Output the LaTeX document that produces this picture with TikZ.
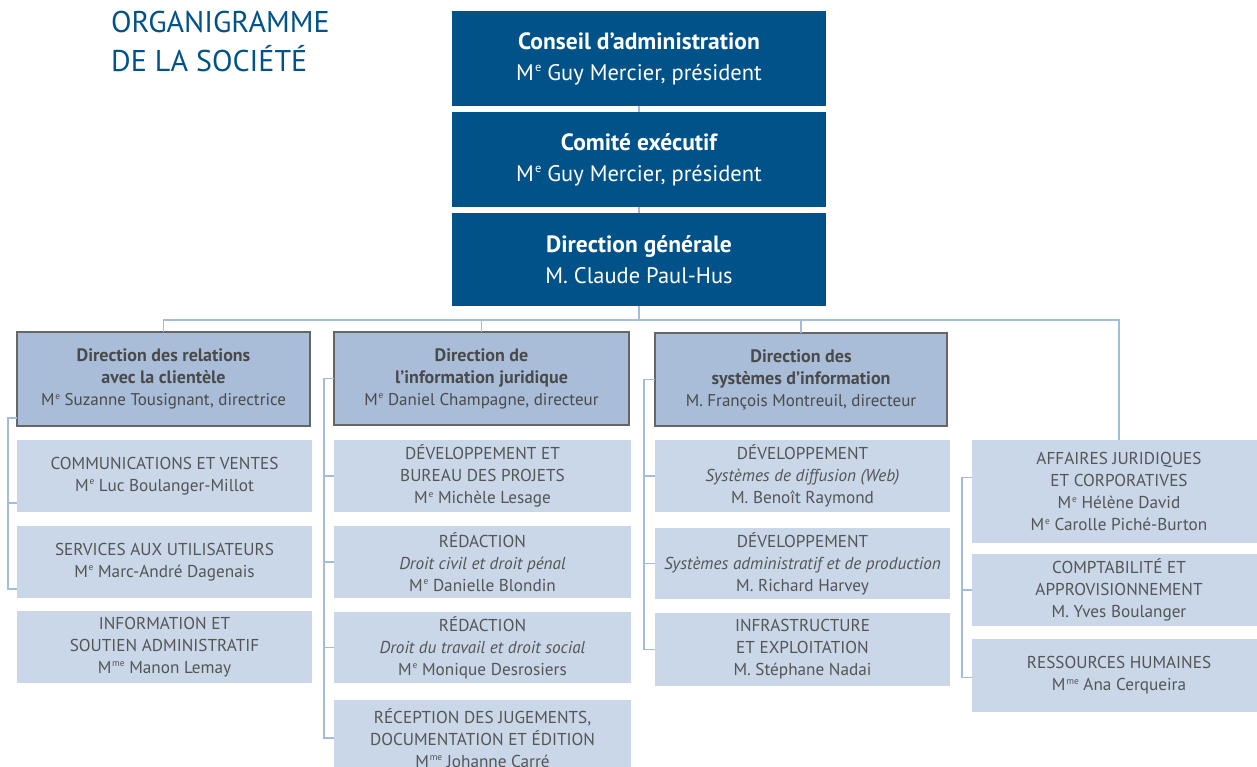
\documentclass[tikz,border=0pt]{standalone}
\usepackage{fontspec}
\setmainfont{PT Sans}
\usetikzlibrary{calc}
\definecolor{dblue}{HTML}{02528A}
\definecolor{hfill}{HTML}{A9BDD8}
\definecolor{sfill}{HTML}{C9D7E9}
\definecolor{lnk}{HTML}{A4BCDC}
\definecolor{htext}{HTML}{4A4A4A}
\definecolor{stext}{HTML}{555555}
\definecolor{hborder}{HTML}{666666}
\newcommand{\Me}{M\kern.05em\raisebox{.75ex}{\scalebox{.55}{e}}}
\newcommand{\Mme}{M\kern.05em\raisebox{.75ex}{\scalebox{.55}{me}}}
\newcommand{\boxat}[7]{\node[#6, minimum width={#4-#2}, minimum height={#5-#3}] (#1) at ({(#2+#4)/2},{(#3+#5)/2}) {#7};}
\tikzset{
  topbox/.style={fill=dblue, text=white, inner sep=0pt, outer sep=0pt, align=center, font=\fontsize{22.5}{31}\selectfont},
  headbox/.style={fill=hfill, draw=hborder, line width=1.5pt, text=htext, inner sep=0pt, outer sep=0pt, align=center, font=\fontsize{17}{22}\selectfont},
  subbox/.style={fill=sfill, text=stext, inner sep=0pt, outer sep=0pt, align=center, font=\fontsize{17.2}{22}\selectfont},
  link/.style={draw=lnk, line width=1.8pt},
  titletext/.style={text=dblue, inner sep=0pt, anchor=base west, font=\fontsize{30}{39}\selectfont}
}
\newcommand{\tb}[1]{{\fontsize{23.5}{31}\selectfont\bfseries #1}}
\newcommand{\hb}[1]{{\fontsize{18}{22}\selectfont\bfseries #1}}
\begin{document}
\begin{tikzpicture}[x=1pt,y=-1pt]
\useasboundingbox (0,0) rectangle (1257,767);
\clip (0,0) rectangle (1257,767);
\fill[white] (0,0) rectangle (1257,767);

\node[titletext] (t1) at (111,33) {ORGANIGRAMME};
\node[titletext] (t2) at (111,72) {DE LA SOCIÉTÉ};

% top boxes
\boxat{b1}{452}{11}{826}{106}{topbox}{\tb{Conseil d’administration}\\\Me{} Guy Mercier, président}
\boxat{b2}{452}{112}{826}{207}{topbox}{\tb{Comité exécutif}\\\Me{} Guy Mercier, président}
\boxat{b3}{452}{213}{826}{306}{topbox}{\tb{Direction générale}\\M. Claude Paul-Hus}

% head boxes
\boxat{h1}{17}{332}{310}{426}{headbox}{\hb{Direction des relations}\\\hb{avec la clientèle}\\\Me{} Suzanne Tousignant, directrice}
\boxat{h2}{334}{332}{629}{425}{headbox}{\hb{Direction de}\\\hb{l’information juridique}\\\Me{} Daniel Champagne, directeur}
\boxat{h3}{655}{333}{947}{426}{headbox}{\hb{Direction des}\\\hb{systèmes d’information}\\M. François Montreuil, directeur}

% column 1
\boxat{s11}{17}{440}{312}{512}{subbox}{COMMUNICATIONS ET VENTES\\\Me{} Luc Boulanger-Millot}
\boxat{s12}{17}{526}{312}{598}{subbox}{SERVICES AUX UTILISATEURS\\\Me{} Marc-André Dagenais}
\boxat{s13}{17}{611}{312}{683}{subbox}{INFORMATION ET\\SOUTIEN ADMINISTRATIF\\\Mme{} Manon Lemay}

% column 2
\boxat{s21}{334}{440}{631}{512}{subbox}{DÉVELOPPEMENT ET\\BUREAU DES PROJETS\\\Me{} Michèle Lesage}
\boxat{s22}{334}{526}{631}{598}{subbox}{RÉDACTION\\\textit{Droit civil et droit pénal}\\\Me{} Danielle Blondin}
\boxat{s23}{334}{612}{631}{683}{subbox}{RÉDACTION\\\textit{Droit du travail et droit social}\\\Me{} Monique Desrosiers}
\boxat{s24}{334}{700}{631}{776}{subbox}{RÉCEPTION DES JUGEMENTS,\\DOCUMENTATION ET ÉDITION\\\Mme{} Johanne Carré}

% column 3
\boxat{s31}{655}{440}{950}{512}{subbox}{DÉVELOPPEMENT\\\textit{Systèmes de diffusion (Web)}\\M. Benoît Raymond}
\boxat{s32}{655}{528}{950}{599}{subbox}{DÉVELOPPEMENT\\\textit{Systèmes administratif et de production}\\M. Richard Harvey}
\boxat{s33}{655}{613}{950}{686}{subbox}{INFRASTRUCTURE\\ET EXPLOITATION\\M. Stéphane Nadai}

% column 4
\boxat{s41}{972}{440}{1266}{543}{subbox}{AFFAIRES JURIDIQUES\\ET CORPORATIVES\\\Me{} Hélène David\\\Me{} Carolle Piché-Burton}
\boxat{s42}{972}{554}{1266}{626}{subbox}{COMPTABILITÉ ET\\APPROVISIONNEMENT\\M. Yves Boulanger}
\boxat{s43}{972}{639}{1266}{712}{subbox}{RESSOURCES HUMAINES\\\Mme{} Ana Cerqueira}

% top connectors
\coordinate (busY) at (0,320);
\draw[link] (b1.south) -- (b2.north);
\draw[link] (b2.south) -- (b3.north);
\draw[link] (b3.south) -- (b3.south |- busY);
\draw[link] (h1.north) |- (busY -| s41.north) -- (s41.north);
\draw[link] (h2.north) -- (h2.north |- busY);
\draw[link] (h3.north) -- (h3.north |- busY);

% column 1 bracket
\draw[link] ($(h1.west)+(0,39)$) -- ++(-9,0) |- ($(s12.west)+(0,27)$);
\draw[link] ($(s11.west)+(-9,27)$) -- ($(s11.west)+(0,27)$);

% column 2 bracket
\draw[link] (h2.west) -- ++(-10,0) |- (s24.west);
\draw[link] ($(s21.west)+(-10,0)$) -- (s21.west);
\draw[link] ($(s22.west)+(-10,0)$) -- (s22.west);
\draw[link] ($(s23.west)+(-10,0)$) -- (s23.west);

% column 3 bracket
\draw[link] (h3.west) -- ++(-11,0) |- (s33.west);
\draw[link] ($(s31.west)+(-11,0)$) -- (s31.west);
\draw[link] ($(s32.west)+(-11,0)$) -- (s32.west);

% column 4 bracket
\draw[link] ($(s41.west)+(0,-14)$) -- ++(-10,0) |- ($(s43.west)+(0,2)$);
\draw[link] ($(s42.west)+(-10,0)$) -- (s42.west);
\end{tikzpicture}
\end{document}
